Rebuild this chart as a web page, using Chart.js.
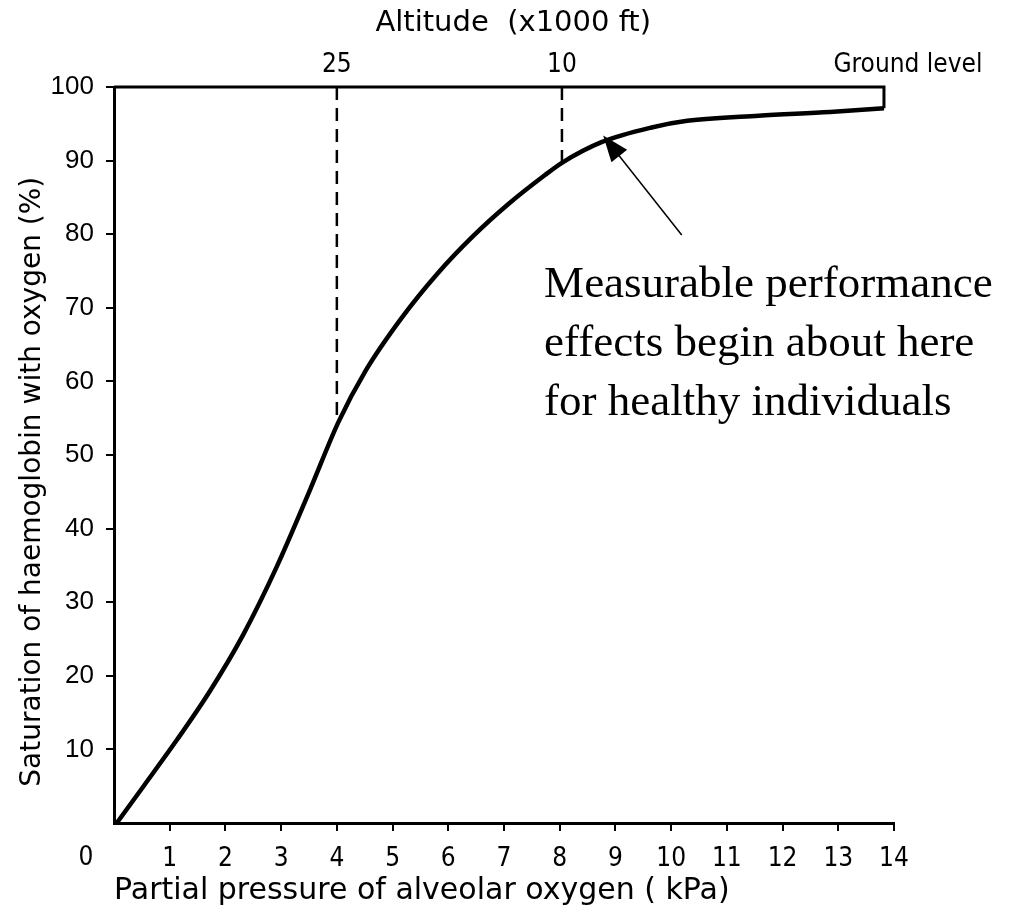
<!DOCTYPE html>
<html>
<head>
<script src="https://cdn.jsdelivr.net/npm/chart.js"></script>
<style>
  body { margin: 0; background: #fff; }
  #wrap { width: 1023px; height: 913px; }
</style>
</head>
<body>
<div id="wrap"><canvas id="chart"></canvas></div>
<script>
// oxygen dissociation curve
var pressure   = [0.05, 0.53, 1.13, 1.72, 2.32, 2.92, 3.52, 4.03, 4.52, 5.16, 5.80, 6.44, 7.08, 7.73, 8.04, 8.75, 9.65, 10.29, 11.57, 12.85, 13.82];
var saturation = [0,    5.0,  11.3, 17.9, 25.6, 34.8, 45.3, 54.5, 61.5, 68.6, 74.6, 79.7, 84.1, 88,   89.7, 92.5, 94.5, 95.4,  96.1,  96.6,  97.1];

// top axis: altitude markers
var altitudeLabels   = ['25', '10', 'Ground level'];
var altitudePressure = [4, 8.04, 13.82];
var altitudeLabelAt  = [4, 8.04, 14.25];
var altitudeCurveSat = [54.5, 89.7, 97.1];

var xTicks = [0, 1, 2, 3, 4, 5, 6, 7, 8, 9, 10, 11, 12, 13, 14];
var yTicks = [10, 20, 30, 40, 50, 60, 70, 80, 90, 100];

var noteLines = ['Measurable performance', 'effects begin about here', 'for healthy individuals'];

var sans = "'Liberation Sans', Arial, sans-serif";
var wide = "'DejaVu Sans', Verdana, sans-serif";
var narrow = "'Liberation Sans Narrow', 'DejaVu Sans Condensed', 'Liberation Sans', sans-serif";

function pts(xs, ys) {
    return xs.map(function (x, i) { return { x: x, y: ys[i] }; });
}

var datasets = [{
    data: pts(pressure, saturation),
    borderColor: '#000',
    borderWidth: 4.5,
    cubicInterpolationMode: 'monotone',
    pointRadius: 0,
    clip: false
}, {
    // frame along the top, closed at ground level
    data: pts([0, altitudePressure[2], altitudePressure[2]], [100, 100, altitudeCurveSat[2]]),
    borderColor: '#000',
    borderWidth: 3,
    pointRadius: 0,
    clip: false
}];
for (var i = 0; i < 2; i++) {
    datasets.push({
        data: pts([altitudePressure[i], altitudePressure[i]], [100, altitudeCurveSat[i]]),
        borderColor: '#000',
        borderWidth: 2.5,
        borderDash: [13, 8],
        pointRadius: 0,
        clip: false
    });
}

// arrow + note, and the lone "0" in the corner
var notePlugin = {
    id: 'note',
    afterDatasetsDraw: function (chart) {
        var ctx = chart.ctx, x = chart.scales.x, y = chart.scales.y;
        ctx.save();
        ctx.fillStyle = '#000';
        ctx.font = "26px " + narrow;
        ctx.textAlign = 'center';
        ctx.textBaseline = 'middle';
        ctx.fillText('0', x.getPixelForValue(0) - 28, 858);

        var tx = x.getPixelForValue(10.19), ty = y.getPixelForValue(79.9);
        var hx = x.getPixelForValue(8.78), hy = y.getPixelForValue(93.4);
        var a = Math.atan2(hy - ty, hx - tx);
        ctx.strokeStyle = '#000';
        ctx.lineWidth = 1.5;
        ctx.beginPath();
        ctx.moveTo(tx, ty);
        ctx.lineTo(hx - 20 * Math.cos(a), hy - 20 * Math.sin(a));
        ctx.stroke();
        ctx.beginPath();
        ctx.moveTo(hx, hy);
        ctx.lineTo(hx - 26 * Math.cos(a) + 10 * Math.sin(a), hy - 26 * Math.sin(a) - 10 * Math.cos(a));
        ctx.lineTo(hx - 26 * Math.cos(a) - 10 * Math.sin(a), hy - 26 * Math.sin(a) + 10 * Math.cos(a));
        ctx.closePath();
        ctx.fill();

        ctx.font = "45px 'Liberation Serif', 'Times New Roman', serif";
        ctx.textAlign = 'left';
        ctx.textBaseline = 'alphabetic';
        var left = x.getPixelForValue(7.72);
        for (var k = 0; k < noteLines.length; k++) {
            ctx.fillText(noteLines[k], left, 297 + k * 59);
        }
        ctx.restore();
    }
};

new Chart(document.getElementById('chart'), {
    type: 'line',
    data: { datasets: datasets },
    plugins: [notePlugin],
    options: {
        responsive: true,
        maintainAspectRatio: false,
        animation: false,
        layout: { padding: { left: 0, right: 129, top: 0, bottom: 0 } },
        plugins: { legend: { display: false }, tooltip: { enabled: false } },
        scales: {
            x: {
                type: 'linear',
                position: 'bottom',
                min: 0, max: 14,
                afterBuildTicks: function (s) { s.ticks = xTicks.map(function (v) { return { value: v }; }); },
                afterFit: function (s) { s.height = 90; },
                border: { color: '#000', width: 3 },
                grid: {
                    drawOnChartArea: false,
                    tickLength: 8,
                    lineWidth: 2,
                    color: function (c) { return c.tick && c.tick.value === 0 ? 'rgba(0,0,0,0)' : '#000'; }
                },
                ticks: {
                    autoSkip: false, maxRotation: 0, padding: 13,
                    color: '#000',
                    font: { family: narrow, size: 26 },
                    callback: function (v) { return v === 0 ? '' : String(v); }
                },
                title: {
                    display: true,
                    align: 'start',
                    text: 'Partial pressure of alveolar oxygen ( kPa)',
                    color: '#000',
                    font: { family: wide, size: 30 },
                    padding: { top: 0, bottom: 4 }
                }
            },
            x2: {
                type: 'linear',
                position: 'top',
                min: 0, max: 14,
                afterBuildTicks: function (s) { s.ticks = altitudeLabelAt.map(function (v) { return { value: v }; }); },
                afterFit: function (s) { s.height = 87; },
                border: { display: false },
                grid: { display: false, drawTicks: false },
                ticks: {
                    autoSkip: false, maxRotation: 0, padding: 6,
                    color: '#000',
                    font: { family: narrow, size: 26 },
                    callback: function (v, i) { return altitudeLabels[i]; }
                },
                title: {
                    display: true,
                    text: '  Altitude  (x1000 ft)',
                    color: '#000',
                    font: { family: wide, size: 29 },
                    padding: { top: 6, bottom: 8 }
                }
            },
            y: {
                min: 0, max: 100,
                afterBuildTicks: function (s) { s.ticks = yTicks.map(function (v) { return { value: v }; }); },
                afterFit: function (s) { s.width = 114; },
                border: { color: '#000', width: 3 },
                grid: { drawOnChartArea: false, tickLength: 8, lineWidth: 2, color: '#000' },
                ticks: {
                    padding: 12,
                    color: '#000',
                    font: { family: sans, size: 26 }
                },
                title: {
                    display: true,
                    text: 'Saturation of haemoglobin with oxygen (%)      ',
                    color: '#000',
                    font: { family: wide, size: 28 },
                    padding: { top: 16, bottom: 0 }
                }
            }
        }
    }
});
</script>
</body>
</html>
